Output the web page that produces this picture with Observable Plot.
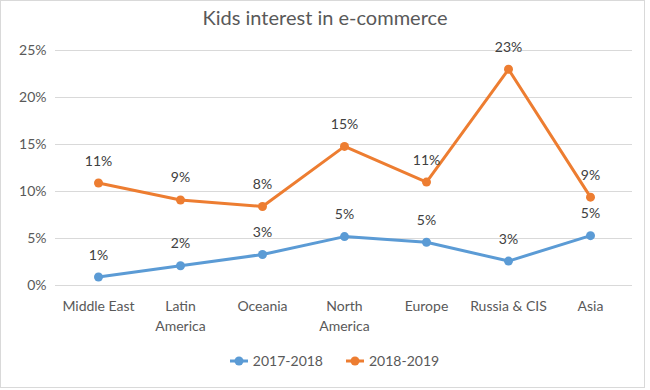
<!DOCTYPE html>
<html>
<head>
<meta charset="utf-8">
<script src="https://cdn.jsdelivr.net/npm/d3@7"></script>
<script src="https://cdn.jsdelivr.net/npm/@observablehq/plot@0.6"></script>
<style>
  html, body { margin: 0; padding: 0; background: #fff; }
  #wrap { position: relative; width: 650px; height: 390px; font-family: Lato, "Open Sans", sans-serif; overflow: hidden; }
  #frame { position: absolute; left: 0; top: 0; width: 645px; height: 388px; border: 1px solid #d9d9d9; box-sizing: border-box; pointer-events: none; }
  #title { position: absolute; left: 0; top: 3px; width: 650px; text-align: center; font-size: 20px; color: #595959; line-height: 28px; }
  #chart { position: absolute; left: 0; top: 0; }
  #legend { position: absolute; left: 0; top: 352px; width: 668px; display: flex; justify-content: center; gap: 22px; font-size: 14px; color: #595959; }
  .item { display: flex; align-items: center; gap: 4px; }
</style>
</head>
<body>
<div id="wrap">
  <div id="frame"></div>
  <div id="chart"></div>
  <div id="title">Kids interest in e-commerce</div>
  <div id="legend"></div>
</div>
<script>
const categories = ["Middle East", "Latin America", "Oceania", "North America", "Europe", "Russia & CIS", "Asia"];
const categoryLabels = ["Middle East", "Latin\nAmerica", "Oceania", "North\nAmerica", "Europe", "Russia & CIS", "Asia"];
const seriesNames = ["2017-2018", "2018-2019"];
const values2017 = [0.9, 2.1, 3.3, 5.2, 4.6, 2.6, 5.3];
const values2018 = [10.9, 9.1, 8.4, 14.8, 11.0, 23.0, 9.4];
const yTicks = [0, 5, 10, 15, 20, 25];
const colors = ["#5B9BD5", "#ED7D31"];

const data = [];
[values2017, values2018].forEach((vals, s) => {
  vals.forEach((v, i) => data.push({ series: seriesNames[s], category: categories[i], value: v }));
});

const chart = Plot.plot({
  width: 650,
  height: 340,
  marginLeft: 55,
  marginRight: 18,
  marginTop: 50,
  marginBottom: 55,
  style: { fontFamily: "Lato, 'Open Sans', sans-serif", fontSize: "14px", color: "#595959", background: "transparent" },
  x: { type: "point", domain: categories, padding: 0.5, label: null },
  y: { domain: [0, 25], label: null },
  color: { domain: seriesNames, range: colors },
  marks: [
    Plot.ruleY(yTicks, { stroke: "#d9d9d9", strokeWidth: 1 }),
    Plot.axisY({ ticks: yTicks, tickSize: 0, tickPadding: 9, tickFormat: d => d + "%", label: null, fill: "#595959" }),
    Plot.axisX({ tickSize: 0, tickPadding: 12, lineHeight: 1.4, tickFormat: (d) => categoryLabels[categories.indexOf(d)], label: null, fill: "#595959" }),
    Plot.line(data, { x: "category", y: "value", z: "series", stroke: "series", strokeWidth: 3 }),
    Plot.dot(data, { x: "category", y: "value", fill: "series", r: 4.5, stroke: "none" }),
    Plot.text(data, { x: "category", y: "value", text: d => Math.round(d.value) + "%", dy: -22, fill: "#404040", fontSize: 14 })
  ]
});
document.getElementById("chart").appendChild(chart);

const legend = document.getElementById("legend");
seriesNames.forEach((name, i) => {
  const item = document.createElement("div");
  item.className = "item";
  item.innerHTML = `<svg width="20" height="12"><line x1="1" y1="6" x2="19" y2="6" stroke="${colors[i]}" stroke-width="3"/><circle cx="10" cy="6" r="4.5" fill="${colors[i]}"/></svg><span>${name}</span>`;
  legend.appendChild(item);
});
</script>
</body>
</html>
